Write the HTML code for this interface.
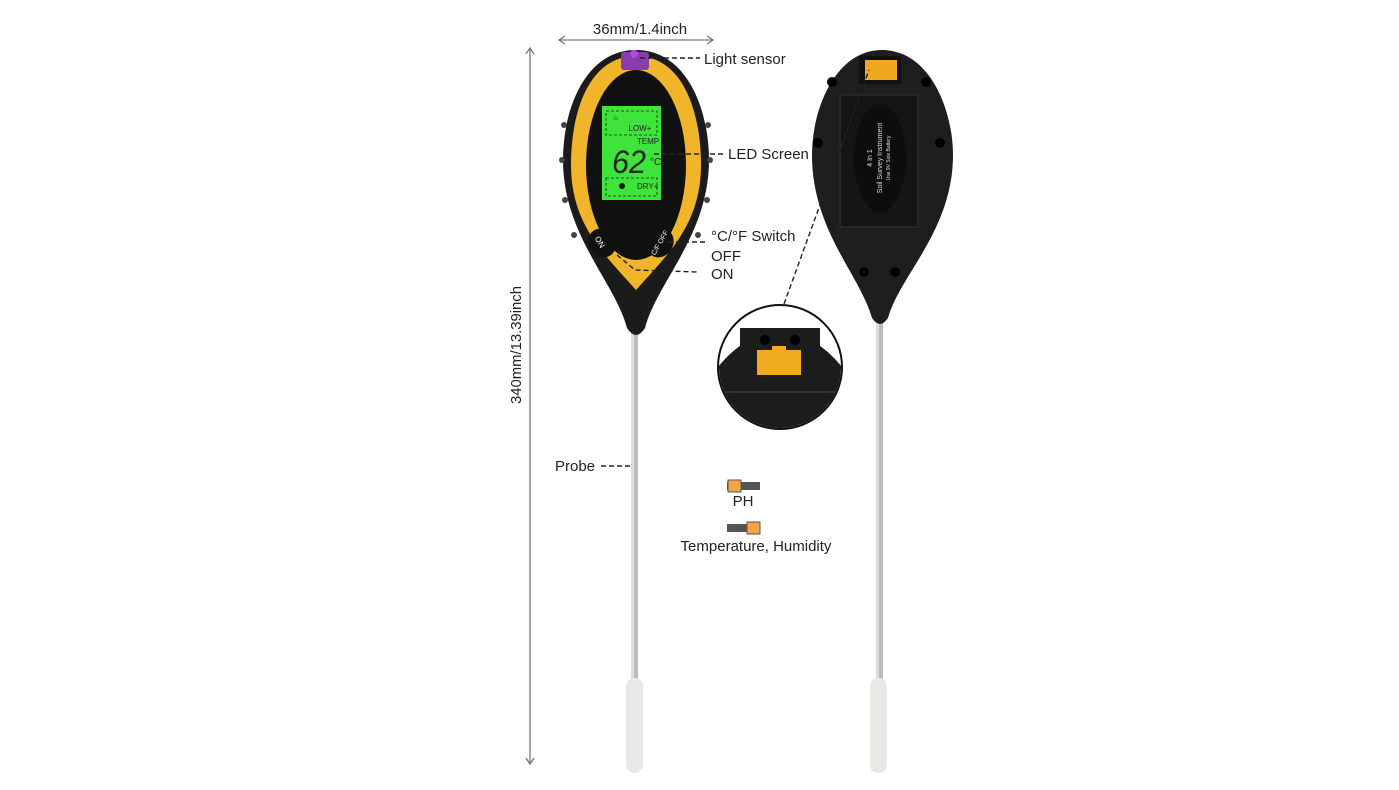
<!DOCTYPE html>
<html><head><meta charset="utf-8"><style>
html,body{margin:0;padding:0;background:#fff;}
svg{display:block}
text{font-family:"Liberation Sans",sans-serif;fill:#222}
</style></head><body>
<svg width="1399" height="790" viewBox="0 0 1399 790" xmlns="http://www.w3.org/2000/svg">
<g stroke="#777" stroke-width="1.3" fill="none">
<line x1="530" y1="48" x2="530" y2="764"/>
<polyline points="526,54 530,48 534,54"/>
<polyline points="526,758 530,764 534,758"/>
<line x1="559" y1="40" x2="713" y2="40"/>
<polyline points="565,36 559,40 565,44"/>
<polyline points="707,36 713,40 707,44"/>
</g>
<text x="640" y="34" font-size="15" text-anchor="middle">36mm/1.4inch</text>
<text transform="translate(521,345) rotate(-90)" font-size="15" text-anchor="middle" textLength="118" lengthAdjust="spacingAndGlyphs">340mm/13.39inch</text>

<rect x="631" y="330" width="7" height="352" fill="#bbb"/>
<rect x="631" y="330" width="3" height="352" fill="#ddd"/>
<rect x="626" y="678" width="17" height="95" rx="8" fill="#e8e8e4"/>
<path d="M636,50 C585,50 563,110 563,160 C563,235 615,282 627,328 Q636,342 645,328 C657,282 709,235 709,160 C709,110 687,50 636,50Z" fill="#1b1b1b"/>
<g fill="#444"><circle cx="562" cy="160" r="3"/><circle cx="710" cy="160" r="3"/><circle cx="565" cy="200" r="3"/><circle cx="707" cy="200" r="3"/><circle cx="574" cy="235" r="3"/><circle cx="698" cy="235" r="3"/><circle cx="564" cy="125" r="3"/><circle cx="708" cy="125" r="3"/></g>
<path d="M636,56 C590,56 571,110 571,165 C571,225 605,255 636,290 C667,255 701,225 701,165 C701,110 682,56 636,56Z" fill="#f0b52a"/>
<ellipse cx="636" cy="165" rx="50" ry="95" fill="#111"/>
<ellipse cx="602" cy="243" rx="13" ry="15" fill="#111" transform="rotate(-35 602 243)"/>
<ellipse cx="660" cy="243" rx="13" ry="15" fill="#111" transform="rotate(35 660 243)"/>
<text x="600" y="247" font-size="8" style="fill:#fff" transform="rotate(60 602 243)" text-anchor="middle">ON</text>
<text x="660" y="245" font-size="7" style="fill:#fff" transform="rotate(-60 660 243)" text-anchor="middle">C/F OFF</text>
<rect x="621" y="52" width="28" height="18" rx="3" fill="#8a3bb0"/>
<circle cx="634" cy="54" r="4" fill="#b04cd8"/>
<rect x="602" y="106" width="59" height="94" fill="#3fe43a"/>
<g stroke="#222" stroke-width="0.8" stroke-dasharray="3 2" fill="none"><rect x="606" y="111" width="51" height="24"/><rect x="606" y="178" width="51" height="18"/></g>
<text x="640" y="131" font-size="8" text-anchor="middle">LOW+</text>
<text x="648" y="144" font-size="8" text-anchor="middle">TEMP</text>
<text x="612" y="120" font-size="8">☼</text>
<text x="612" y="173" font-size="32" font-style="italic" textLength="34" lengthAdjust="spacingAndGlyphs">62</text>
<text x="650" y="165" font-size="10">°C</text>
<circle cx="622" cy="186" r="3" fill="#111"/>
<text x="637" y="189" font-size="8">DRY+</text>

<rect x="876" y="320" width="7" height="362" fill="#bbb"/>
<rect x="876" y="320" width="3" height="362" fill="#ddd"/>
<rect x="870" y="678" width="17" height="95" rx="8" fill="#e8e8e4"/>
<path d="M882,50 C835,50 812,110 812,155 C812,230 860,275 872,318 Q880,330 888,318 C900,275 953,230 953,155 C953,110 930,50 882,50Z" fill="#1e1e1e"/>
<rect x="859" y="56" width="42" height="28" fill="#111"/>
<rect x="865" y="60" width="32" height="20" fill="#f0a81e"/>
<rect x="840" y="95" width="78" height="132" fill="#151515" stroke="#333"/>
<ellipse cx="880" cy="158" rx="26" ry="54" fill="#0d0d0d"/>
<g fill="#000"><circle cx="832" cy="82" r="5"/><circle cx="926" cy="82" r="5"/><circle cx="818" cy="143" r="5"/><circle cx="940" cy="143" r="5"/><circle cx="864" cy="272" r="5"/><circle cx="895" cy="272" r="5"/></g>
<g transform="translate(880,158) rotate(-90)" text-anchor="middle"><text y="-8" font-size="7" style="fill:#ddd">4 In 1</text><text y="2" font-size="7" style="fill:#ddd">Soil Survey Instrument</text><text y="10" font-size="5" style="fill:#ddd">Use 9V Size Battery</text></g>

<circle cx="780" cy="367" r="62" fill="#fff" stroke="#111" stroke-width="2"/>
<clipPath id="c"><circle cx="780" cy="367" r="61"/></clipPath>
<g clip-path="url(#c)">
<path d="M712,375 Q740,335 780,330 Q820,335 848,375 L848,440 L712,440Z" fill="#1c1c1c"/>
<rect x="740" y="328" width="80" height="60" fill="#1c1c1c"/>
<circle cx="765" cy="340" r="5" fill="#000"/><circle cx="795" cy="340" r="5" fill="#000"/>
<rect x="757" y="350" width="44" height="25" fill="#f0ab1e"/>
<rect x="772" y="346" width="14" height="6" fill="#f0ab1e"/>
<line x1="716" y1="392" x2="845" y2="392" stroke="#444"/>
</g>
<g stroke="#222" stroke-width="1.4" stroke-dasharray="5 3" fill="none">
<line x1="784" y1="304" x2="869" y2="70"/>
<line x1="640" y1="58" x2="700" y2="58"/>
<line x1="654" y1="154" x2="724" y2="154"/>
<line x1="668" y1="242" x2="708" y2="242"/>
<polyline points="617,255 635,270 698,272"/>
<line x1="601" y1="466" x2="632" y2="466"/>
</g>
<text x="704" y="64" font-size="15">Light sensor</text>
<text x="728" y="159" font-size="15">LED Screen</text>
<text x="711" y="241" font-size="15">°C/°F Switch</text>
<text x="711" y="261" font-size="15">OFF</text>
<text x="711" y="279" font-size="15">ON</text>
<text x="555" y="471" font-size="15">Probe</text>
<rect x="727" y="482" width="33" height="8" fill="#555"/>
<rect x="728" y="480" width="13" height="12" fill="#f4a642" stroke="#555"/>
<text x="743" y="506" font-size="15" text-anchor="middle">PH</text>
<rect x="727" y="524" width="33" height="8" fill="#555"/>
<rect x="747" y="522" width="13" height="12" fill="#f4a642" stroke="#555"/>
<text x="756" y="551" font-size="15" text-anchor="middle">Temperature, Humidity</text>
</svg>
</body></html>
